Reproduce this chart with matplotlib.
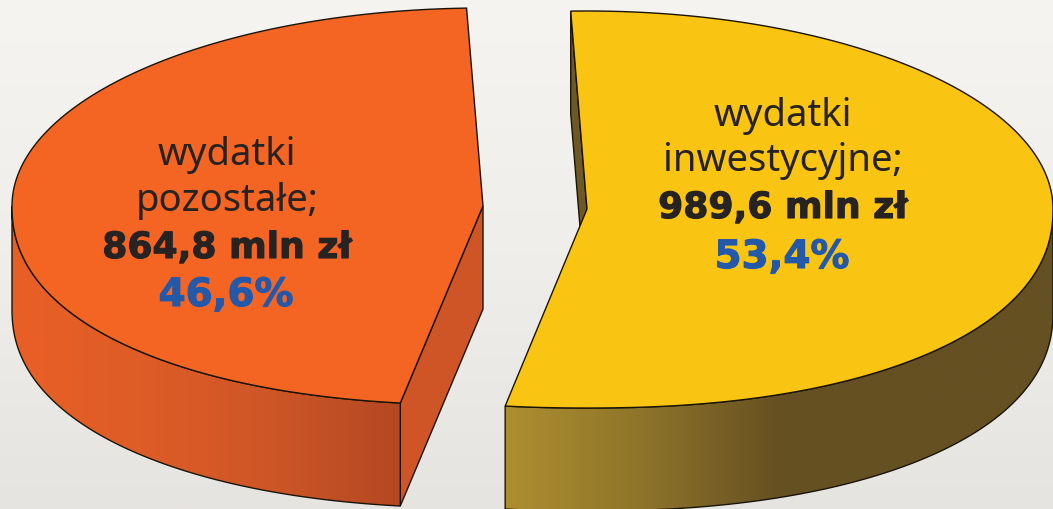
import numpy as np
import matplotlib
matplotlib.use('Agg')
import matplotlib.pyplot as plt
import matplotlib.patheffects as pe
from matplotlib.colors import LinearSegmentedColormap
from matplotlib.patches import Polygon

# data
categories = [['wydatki', 'pozostałe;'], ['wydatki', 'inwestycyjne;']]
values = [864.8, 989.6]
value_labels = ['864,8 mln zł', '989,6 mln zł']
share_labels = ['46,6%', '53,4%']

W, H = 1053, 510
START = 92.0
DEPTH = 103
B_TOP = 198.0
B_LOW = 199.0


def arc(cx, cy, a, t0, t1, dy=0.0):
    # upper half is a plain ellipse, the lower half is a bit squarer
    t = np.radians(np.linspace(t0, t1, 300))
    c, s = np.cos(t), np.sin(t)
    low = (1 - np.abs(c) ** 2.2) ** (1 / 2.2)
    y = np.where(s >= 0, -B_TOP * s, B_LOW * low)
    return np.column_stack([cx + a * c, cy + y + dy])


def gradient_wall(ax, poly, colors, x0, x1):
    # horizontal gradient clipped to the wall outline
    cmap = LinearSegmentedColormap.from_list('wall', colors)
    grad = np.linspace(0, 1, 256).reshape(1, -1)
    im = ax.imshow(grad, cmap=cmap, extent=[x0, x1, H, 0], aspect='auto', zorder=2)
    patch = Polygon(poly, closed=True, fc='none', ec='#1a1408', lw=1.0, zorder=2.5)
    ax.add_patch(patch)
    im.set_clip_path(patch)


fig = plt.figure(figsize=(W / 100, H / 100), dpi=100)
ax = fig.add_axes([0, 0, 1, 1])

# paper background, slightly darker towards the bottom
bg = LinearSegmentedColormap.from_list('bg', ['#F6F4F0', '#F0EEEA', '#E6E4E1'])
ax.imshow(np.linspace(0, 1, 256).reshape(-1, 1), cmap=bg, extent=[0, W, H, 0], aspect='auto', zorder=0)

total = sum(values)
sweep_left = values[0] / total * 360
sweep_right = values[1] / total * 360

# left slice
cx, cy, a = 483, 207, 471
end = START + sweep_left
top = np.vstack([[[cx, cy]], arc(cx, cy, a, START, end)])
tip = arc(cx, cy, a, end, end)[0]
face = [(cx, cy), tuple(tip), (tip[0], tip[1] + DEPTH), (cx, cy + DEPTH)]
ax.add_patch(Polygon(face, closed=True, fc='#CF5527', ec='#1a1408', lw=1.0, zorder=1.5))
wall = np.vstack([arc(cx, cy, a, 180, end), arc(cx, cy, a, end, 180, DEPTH)])
gradient_wall(ax, wall, ['#E96026', '#DE5C26', '#CE5627', '#B34822'], 12, 402)
ax.add_patch(Polygon(top, closed=True, fc='#F46523', ec='#1a1408', lw=1.0, zorder=3))

# right slice
cx, cy, a = 587, 210, 466
end = START - sweep_right
top = np.vstack([[[cx, cy]], arc(cx, cy, a, START, end)])
tip = arc(cx, cy, a, START, START)[0]
face = [(cx, cy), tuple(tip), (tip[0], tip[1] + DEPTH), (cx, cy + DEPTH)]
ax.add_patch(Polygon(face, closed=True, fc='#6E5825', ec='#1a1408', lw=1.0, zorder=1.5))
wall = np.vstack([arc(cx, cy, a, end, 0), arc(cx, cy, a, 0, end, DEPTH)])
gradient_wall(ax, wall, ['#AD8F30', '#8E7429', '#665022', '#655022', '#655022'], 505, 1053)
ax.add_patch(Polygon(top, closed=True, fc='#FAC512', ec='#1a1408', lw=1.0, zorder=3))

# labels
TEXT = '#262322'
BLUE = '#2459A9'
for names, val, share, x, ys in zip(categories, value_labels, share_labels, [227, 783],
                                    [[155, 201, 249, 296], [116, 161, 209, 258]]):
    for name, y in zip(names, ys):
        ax.text(x, y, name, ha='center', va='center', fontsize=27.5, color=TEXT,
                family='Noto Sans', zorder=5)
    ax.text(x, ys[2], val, ha='center', va='center', fontsize=26, fontweight='bold',
            color=TEXT, zorder=5, path_effects=[pe.withStroke(linewidth=0.8, foreground=TEXT)])
    ax.text(x - 1, ys[3], share, ha='center', va='center', fontsize=28, fontweight='bold',
            color=BLUE, zorder=5, path_effects=[pe.withStroke(linewidth=0.8, foreground=BLUE)])

ax.set_xlim(0, W)
ax.set_ylim(H, 0)
ax.axis('off')
fig.savefig('out.png', dpi=100)
